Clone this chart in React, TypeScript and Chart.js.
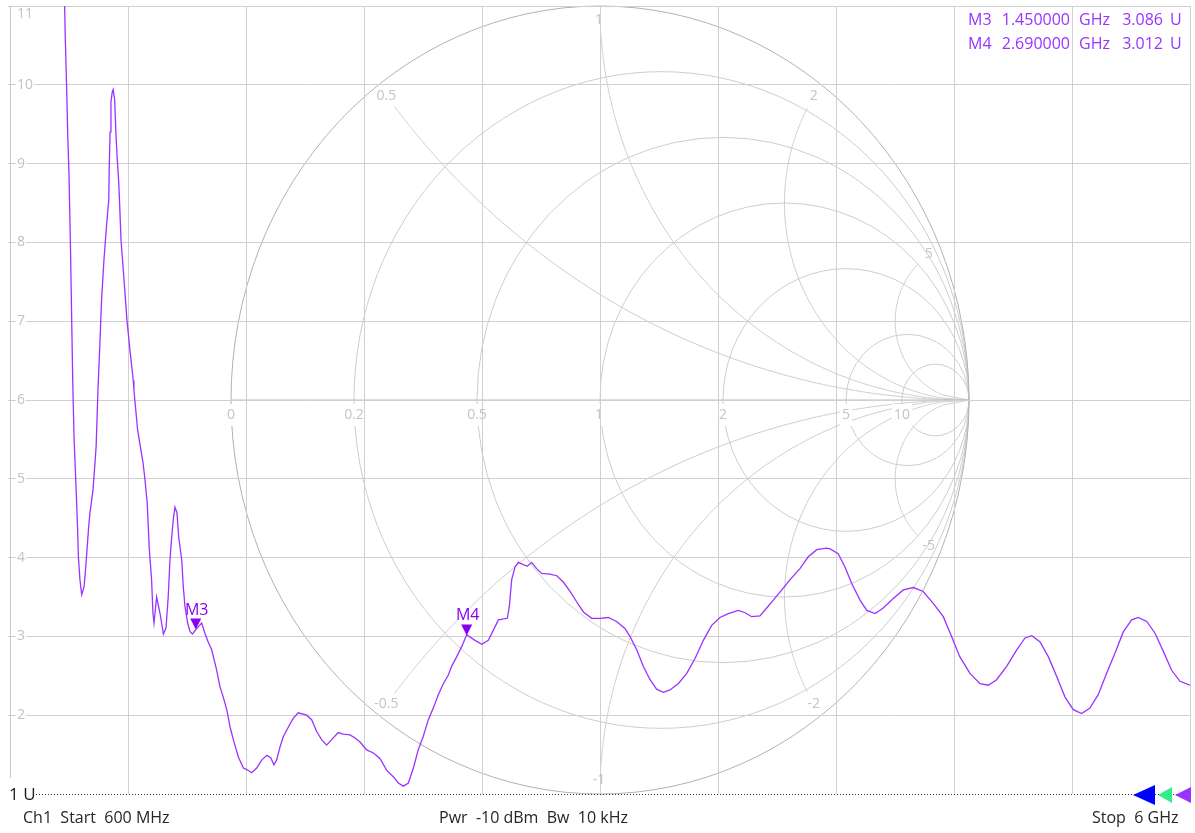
import { useEffect, useRef } from 'react';
import { Chart, registerables } from 'chart.js';

Chart.register(...registerables);

// ---- Data ----
const startGHz = 0.6;
const stopGHz = 6.0;
const xDivisions = 10;
const yTicks = [1, 2, 3, 4, 5, 6, 7, 8, 9, 10, 11];

const freqGHz = [
  0.600, 0.800, 0.850, 0.853, 0.859, 0.864, 0.870, 0.877, 0.887, 0.893,
  0.902, 0.909, 0.913, 0.920, 0.928, 0.939, 0.948, 0.960, 0.966, 0.980,
  0.994, 1.003, 1.012, 1.019, 1.030, 1.042, 1.052, 1.054, 1.058, 1.062,
  1.068, 1.072, 1.079, 1.085, 1.091, 1.097, 1.101, 1.108, 1.122, 1.135,
  1.149, 1.164, 1.167, 1.184, 1.209, 1.218, 1.228, 1.237, 1.248, 1.254,
  1.259, 1.271, 1.286, 1.302, 1.314, 1.324, 1.332, 1.340, 1.347, 1.355,
  1.364, 1.372, 1.386, 1.393, 1.401, 1.413, 1.424, 1.435, 1.451, 1.477,
  1.492, 1.507, 1.523, 1.546, 1.561, 1.576, 1.592, 1.607, 1.622, 1.645,
  1.668, 1.683, 1.706, 1.729, 1.752, 1.775, 1.793, 1.808, 1.820, 1.836,
  1.851, 1.874, 1.896, 1.919, 1.958, 1.981, 2.004, 2.026, 2.049, 2.072,
  2.102, 2.125, 2.156, 2.179, 2.202, 2.232, 2.263, 2.293, 2.324, 2.354,
  2.377, 2.400, 2.423, 2.446, 2.468, 2.491, 2.514, 2.537, 2.560, 2.583,
  2.606, 2.621, 2.644, 2.667, 2.690, 2.728, 2.759, 2.789, 2.812, 2.835,
  2.876, 2.885, 2.896, 2.911, 2.926, 2.949, 2.967, 2.987, 3.010, 3.033,
  3.071, 3.102, 3.132, 3.163, 3.193, 3.224, 3.262, 3.300, 3.338, 3.376,
  3.414, 3.437, 3.468, 3.498, 3.529, 3.559, 3.590, 3.620, 3.658, 3.697,
  3.735, 3.773, 3.811, 3.849, 3.887, 3.933, 3.964, 3.994, 4.032, 4.063,
  4.093, 4.132, 4.170, 4.215, 4.253, 4.292, 4.337, 4.353, 4.390, 4.421,
  4.452, 4.490, 4.521, 4.559, 4.596, 4.642, 4.688, 4.734, 4.779, 4.825,
  4.871, 4.909, 4.947, 4.993, 5.039, 5.077, 5.115, 5.161, 5.207, 5.245,
  5.276, 5.314, 5.352, 5.390, 5.428, 5.466, 5.504, 5.542, 5.580, 5.618,
  5.657, 5.695, 5.733, 5.763, 5.802, 5.840, 5.878, 5.916, 5.954, 6.000,
];

const vswr = [
  15.5, 13.0, 11.00, 10.59, 9.98, 9.39, 8.86, 7.90, 6.25, 5.53,
  4.91, 4.39, 4.01, 3.72, 3.53, 3.63, 3.93, 4.39, 4.57, 4.86,
  5.40, 6.16, 6.76, 7.27, 7.78, 8.22, 8.54, 8.94, 9.40, 9.78,
  9.91, 9.94, 9.81, 9.36, 9.05, 8.79, 8.54, 8.03, 7.52, 7.02,
  6.63, 6.25, 6.13, 5.62, 5.20, 4.98, 4.69, 4.13, 3.72, 3.30,
  3.17, 3.50, 3.30, 3.03, 3.11, 3.50, 3.97, 4.26, 4.48, 4.64,
  4.57, 4.26, 3.97, 3.63, 3.37, 3.17, 3.06, 3.03, 3.09, 3.17,
  3.04, 2.93, 2.83, 2.57, 2.36, 2.23, 2.07, 1.85, 1.69, 1.47,
  1.33, 1.31, 1.27, 1.33, 1.43, 1.49, 1.46, 1.37, 1.43, 1.60,
  1.73, 1.85, 1.96, 2.03, 2.00, 1.94, 1.79, 1.69, 1.62, 1.69,
  1.78, 1.76, 1.75, 1.71, 1.66, 1.56, 1.52, 1.45, 1.30, 1.22,
  1.14, 1.10, 1.14, 1.33, 1.56, 1.73, 1.94, 2.09, 2.26, 2.40,
  2.51, 2.62, 2.74, 2.87, 3.02, 2.95, 2.90, 2.95, 3.08, 3.21,
  3.23, 3.38, 3.72, 3.88, 3.94, 3.91, 3.89, 3.94, 3.86, 3.80,
  3.79, 3.77, 3.69, 3.57, 3.44, 3.31, 3.23, 3.23, 3.24, 3.19,
  3.10, 3.00, 2.83, 2.62, 2.45, 2.33, 2.29, 2.32, 2.40, 2.53,
  2.72, 2.95, 3.14, 3.24, 3.29, 3.33, 3.30, 3.25, 3.26, 3.36,
  3.46, 3.59, 3.72, 3.86, 4.01, 4.10, 4.12, 4.11, 4.05, 3.88,
  3.67, 3.46, 3.33, 3.29, 3.36, 3.48, 3.59, 3.62, 3.57, 3.42,
  3.25, 3.00, 2.74, 2.53, 2.40, 2.38, 2.45, 2.62, 2.83, 2.98,
  3.01, 2.93, 2.74, 2.49, 2.23, 2.07, 2.02, 2.09, 2.26, 2.53,
  2.79, 3.06, 3.21, 3.24, 3.19, 3.04, 2.81, 2.57, 2.43, 2.38,
];

const markerNames = ['M3', 'M4'];
const markerFreqGHz = [1.45, 2.69];
const markerVswr = [3.086, 3.012];

const smithResistances = [0.2, 0.5, 1, 2, 5, 10];
const smithResistanceLabels = ['0', '0.2', '0.5', '1', '2', '5', '10'];
const smithReactances = [0.5, 1, 2, 5];

const footerLeft = 'Ch1  Start  600 MHz';
const footerMid = 'Pwr  -10 dBm  Bw  10 kHz';
const footerRight = 'Stop  6 GHz';
const refLabel = '1 U';

// ---- Styles ----
const FONT = 'Open Sans';
const TRACE = '#9933ff';
const MARK = '#8a00f0';
const GRID = '#d0d0d0';
const SMITH = '#cdcdcd';
const SMITH_TEXT = '#c4c4c4';

function smithGeom(chart: any) {
  const a = chart.chartArea;
  const cx = (a.left + a.right) / 2;
  const cy = (a.top + a.bottom) / 2;
  const ry = (a.bottom - a.top) / 2;
  const rx = ry * 0.9365;
  const P = (u: number, v: number) => [cx + u * rx, cy - v * ry];
  return { cx, cy, rx, ry, P };
}

const smithPlugin = {
  id: 'smithGrid',
  beforeDraw(chart: any) {
    const { ctx } = chart;
    const { cx, cy, rx, ry, P } = smithGeom(chart);
    ctx.save();
    ctx.lineWidth = 1;
    ctx.strokeStyle = SMITH;
    smithResistances.forEach((r) => {
      const c = r / (1 + r);
      const R = 1 / (1 + r);
      ctx.beginPath();
      ctx.ellipse(cx + c * rx, cy, R * rx, R * ry, 0, 0, Math.PI * 2);
      ctx.stroke();
    });
    const xs = [...smithReactances, ...smithReactances.map((x) => -x)];
    xs.forEach((x) => {
      ctx.beginPath();
      let started = false;
      for (let i = 0; i <= 600; i++) {
        const r = Math.pow(10, -3 + (i * 7) / 600);
        const D = (r + 1) * (r + 1) + x * x;
        const u = (r * r + x * x - 1) / D;
        const v = (2 * x) / D;
        if (u * u + v * v > 0.93 * 0.93) continue;
        const [px, py] = P(u, v);
        if (!started) { ctx.moveTo(px, py); started = true; } else ctx.lineTo(px, py);
      }
      const [ex, ey] = P(1, 0);
      ctx.lineTo(ex, ey);
      ctx.stroke();
    });
    ctx.strokeStyle = '#b2b2b2';
    ctx.beginPath();
    ctx.ellipse(cx, cy, rx, ry, 0, 0, Math.PI * 2);
    ctx.stroke();
    ctx.strokeStyle = '#bdbdbd';
    ctx.beginPath();
    ctx.moveTo(cx - rx, cy);
    ctx.lineTo(cx + rx, cy);
    ctx.stroke();
    // gaps in the circles under the resistance labels
    ctx.font = `14px "${FONT}"`;
    const rs = [0, ...smithResistances];
    rs.forEach((r, i) => {
      const [px] = P((r - 1) / (r + 1), 0);
      const w = ctx.measureText(smithResistanceLabels[i]).width;
      ctx.fillStyle = '#ffffff';
      ctx.fillRect(px - w / 2 - 2, cy + 4, w + 4, 22);
    });
    ctx.restore();
  },
  beforeDatasetsDraw(chart: any) {
    const { ctx } = chart;
    const { cy, P } = smithGeom(chart);
    ctx.save();
    ctx.font = `14px "${FONT}"`;
    ctx.textAlign = 'center';
    ctx.textBaseline = 'middle';
    ctx.fillStyle = SMITH_TEXT;
    const rs = [0, ...smithResistances];
    rs.forEach((r, i) => {
      const [px] = P((r - 1) / (r + 1), 0);
      const t = smithResistanceLabels[i];
      ctx.fillText(t, t === '1' ? px - 1 : px, cy + 15);
    });
    const xs = [...smithReactances, ...smithReactances.map((x) => -x)];
    xs.forEach((x) => {
      const D = 1 + x * x;
      const u = (x * x - 1) / D;
      const v = (2 * x) / D;
      const [px, py] = P(u * 0.965, v * 0.965);
      ctx.fillText(String(x), Math.abs(x) === 1 ? px - 1 : px, py);
    });
    ctx.restore();
  },
};

const overlayPlugin = {
  id: 'vnaOverlay',
  afterDatasetsDraw(chart: any) {
    const { ctx, scales } = chart;
    ctx.save();
    markerNames.forEach((name, i) => {
      const px = scales.x.getPixelForValue(markerFreqGHz[i]);
      const py = scales.y.getPixelForValue(markerVswr[i]);
      ctx.fillStyle = MARK;
      ctx.beginPath();
      ctx.moveTo(px, py);
      ctx.lineTo(px - 5.5, py - 11);
      ctx.lineTo(px + 5.5, py - 11);
      ctx.closePath();
      ctx.fill();
      ctx.font = `16px "${FONT}"`;
      ctx.textAlign = 'center';
      ctx.textBaseline = 'alphabetic';
      ctx.fillText(name, px + 1, py - 15);
    });
    ctx.restore();
  },
  afterDraw(chart: any) {
    const { ctx, chartArea: a } = chart;
    ctx.save();
    ctx.fillStyle = '#ffffff';
    ctx.fillRect(0, a.bottom - 16, 36, 30);
    ctx.strokeStyle = '#333333';
    ctx.lineWidth = 1;
    ctx.setLineDash([1, 2]);
    ctx.beginPath();
    ctx.moveTo(36, Math.round(a.bottom) + 0.5);
    ctx.lineTo(a.right, Math.round(a.bottom) + 0.5);
    ctx.stroke();
    ctx.setLineDash([]);
    ctx.fillStyle = '#1c1c2c';
    ctx.font = `17px "${FONT}"`;
    ctx.textAlign = 'left';
    ctx.textBaseline = 'middle';
    ctx.fillText(refLabel, 9, a.bottom + 1);
    ctx.fillStyle = '#262626';
    ctx.font = `16px "${FONT}"`;
    ctx.fillText(footerLeft, 23, a.bottom + 24);
    ctx.fillText(footerMid, 439, a.bottom + 24);
    ctx.fillText(footerRight, 1092, a.bottom + 24);
    const cyA = a.bottom + 1;
    const arrows = [
      { tip: a.right - 57, base: a.right - 35, h: 10, c: '#0000ff' },
      { tip: a.right - 32, base: a.right - 18, h: 8, c: '#33ee88' },
      { tip: a.right - 15, base: a.right + 1, h: 8, c: '#9933ff' },
    ];
    arrows.forEach((t) => {
      ctx.fillStyle = t.c;
      ctx.beginPath();
      ctx.moveTo(t.tip, cyA);
      ctx.lineTo(t.base, cyA - t.h);
      ctx.lineTo(t.base, cyA + t.h);
      ctx.closePath();
      ctx.fill();
    });
    ctx.font = `16px "${FONT}"`;
    ctx.fillStyle = TRACE;
    markerNames.forEach((name, i) => {
      const y = a.top + 14 + i * 24;
      ctx.textAlign = 'left';
      ctx.fillText(name, 968, y);
      ctx.textAlign = 'right';
      ctx.fillText(markerFreqGHz[i].toFixed(6), 1070, y);
      ctx.textAlign = 'left';
      ctx.fillText('GHz', 1079, y);
      ctx.textAlign = 'right';
      ctx.fillText(markerVswr[i].toFixed(3), 1163, y);
      ctx.textAlign = 'left';
      ctx.fillText('U', 1170, y);
    });
    ctx.restore();
  },
};

export default function App() {
  const ref = useRef<HTMLCanvasElement | null>(null);
  useEffect(() => {
    if (!ref.current) return;
    Chart.defaults.font.family = FONT;
    const chart = new Chart(ref.current, {
      type: 'line',
      data: {
        datasets: [
          {
            label: 'VSWR',
            data: freqGHz.map((f, i) => ({ x: f, y: vswr[i] })),
            borderColor: TRACE,
            borderWidth: 1.3,
            pointRadius: 0,
            tension: 0,
            fill: false,
          },
        ],
      },
      options: {
        animation: false,
        responsive: true,
        maintainAspectRatio: false,
        events: [],
        layout: { padding: { left: 0, right: 5, top: 6, bottom: 39 } },
        plugins: { legend: { display: false }, tooltip: { enabled: false } },
        scales: {
          x: {
            type: 'linear',
            min: startGHz,
            max: stopGHz,
            afterBuildTicks: (s: any) => {
              s.ticks = Array.from({ length: xDivisions + 1 }, (_, i) => ({
                value: startGHz + (i * (stopGHz - startGHz)) / xDivisions,
              }));
            },
            afterFit: (s: any) => { s.height = 0; },
            ticks: { display: false },
            grid: { color: GRID, drawTicks: false, lineWidth: 1 },
            border: { display: false },
          },
          y: {
            type: 'linear',
            min: 1,
            max: 11,
            afterBuildTicks: (s: any) => {
              s.ticks = yTicks.map((v) => ({ value: v }));
            },
            afterFit: (s: any) => {
              s.width = 10;
              s.paddingTop = 0;
              s.paddingBottom = 0;
            },
            grid: {
              color: (c: any) => (c.tick && c.tick.value === 1 ? 'rgba(0,0,0,0)' : GRID),
              tickLength: 2,
              lineWidth: 1,
            },
            border: { display: true, color: '#c8c8c8' },
            ticks: {
              mirror: true,
              padding: 7,
              color: '#c2c2c2',
              font: { family: FONT, size: 14 },
              showLabelBackdrop: (c: any) => c.tick && c.tick.value !== 11 && c.tick.value !== 1,
              backdropColor: '#ffffff',
              backdropPadding: 1,
              callback: (v: any) => (v === 1 ? '' : v === 11 ? ['', '11'] : String(v)),
            },
          },
        },
      },
      plugins: [smithPlugin, overlayPlugin],
    } as any);
    return () => chart.destroy();
  }, []);
  return (
    <div style={{ position: 'absolute', left: 0, top: 0, width: 1195, height: 833, background: '#fff' }}>
      <canvas ref={ref} />
    </div>
  );
}
